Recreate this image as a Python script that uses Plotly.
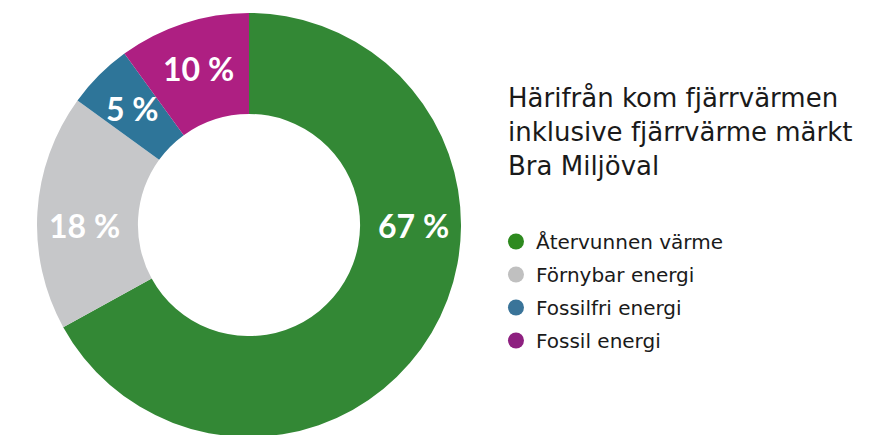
import math
import plotly.graph_objects as go

# data
labels = ['Återvunnen värme', 'Förnybar energi', 'Fossilfri energi', 'Fossil energi']
values = [67, 18, 5, 10]
pct_text = ['67 %', '18 %', '5 %', '10 %']
slice_colors = ['#338835', '#c6c7c9', '#2e7599', '#ae1f82']
legend_colors = ['#2e8a1f', '#c0c0c0', '#3a7499', '#8e2080']
heading = 'Härifrån kom fjärrvärmen<br>inklusive fjärrvärme märkt<br>Bra Miljöval'

W, H = 875, 435
M_T, M_B = 5, 6
plot_h = H - M_T - M_B
r_out = plot_h / 2
cx_px = 241
dom = [(cx_px - r_out) / W, (cx_px + r_out) / W]
hole = 0.524
LABEL_FONT = 'Lato'
TEXT_FONT = 'DejaVu Sans'
INK = '#1a1a1a'

fig = go.Figure()

fig.add_trace(go.Pie(
    labels=labels, values=values,
    marker=dict(colors=slice_colors, line=dict(width=0)),
    hole=hole, sort=False, direction='clockwise', rotation=0,
    textinfo='none', hoverinfo='label+percent',
    showlegend=False,
    domain=dict(x=dom, y=[0, 1]),
))

# legend entries drawn as round markers
for name, col in zip(labels, legend_colors):
    fig.add_trace(go.Scatter(
        x=[None], y=[None], mode='markers', name=name, legendgroup=name,
        marker=dict(color=col, size=16, symbol='circle'),
    ))

# percentage labels, placed mid-ring
total = sum(values)
r_lab = (r_out * (1 + hole)) / 2 + 3
cum = 0
for v, t in zip(values, pct_text):
    mid = (cum + v / 2) / total * 360
    cum += v
    # big slices keep their label on the horizontal midline
    for snap in (90, 270):
        if abs(mid - snap) < 35:
            mid = snap
    a = math.radians(mid)
    fig.add_annotation(
        x=(cx_px + r_lab * math.sin(a)) / W,
        y=0.5 + r_lab * math.cos(a) / plot_h,
        xref='paper', yref='paper', xanchor='center', yanchor='middle',
        text=t, showarrow=False,
        font=dict(family=LABEL_FONT, size=32, color='white', weight='bold'),
    )

fig.add_annotation(
    x=0.5694, y=0.7193, xref='paper', yref='paper',
    xanchor='left', yanchor='middle', align='left',
    text=heading, showarrow=False,
    font=dict(family=TEXT_FONT, size=26, color=INK),
)

fig.update_layout(
    width=W, height=H,
    margin=dict(l=0, r=0, t=M_T, b=M_B),
    paper_bgcolor='white', plot_bgcolor='white',
    xaxis=dict(visible=False), yaxis=dict(visible=False),
    legend=dict(
        font=dict(family=TEXT_FONT, size=20, color=INK),
        x=0.5577, xanchor='left', y=0.5071, yanchor='top',
        itemsizing='trace', tracegroupgap=4, bgcolor='rgba(0,0,0,0)',
    ),
)

fig.write_html('out.html')
